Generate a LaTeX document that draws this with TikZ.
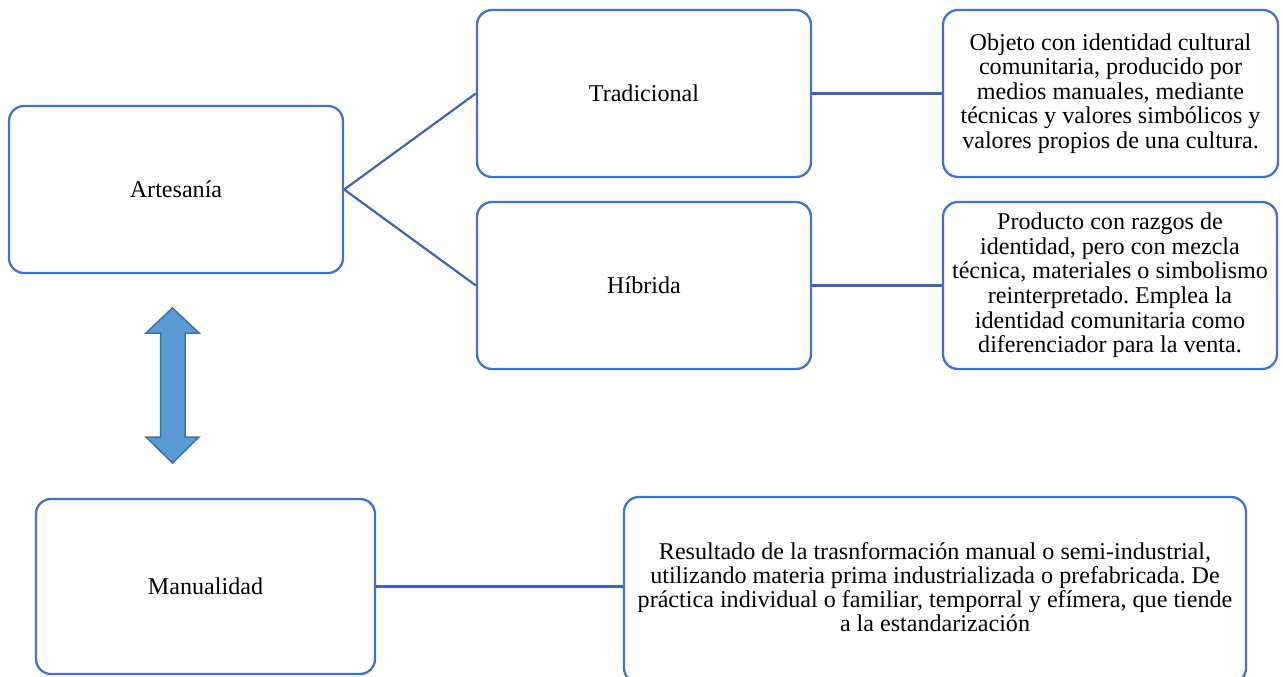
\documentclass[tikz,border=0pt]{standalone}
\usepackage{fontspec}
\setmainfont{Liberation Serif}
\frenchspacing
\definecolor{boxblue}{HTML}{4472C4}
\definecolor{lineblue}{HTML}{3F65B0}
\definecolor{arrowfill}{HTML}{5B9BD5}
\definecolor{arrowdraw}{HTML}{41719C}
\begin{document}
\begin{tikzpicture}[x=1pt,y=-1pt,
  box/.style={draw=boxblue, line width=2.3pt, rounded corners=15pt, fill=white, align=center, inner sep=0pt, font=\fontsize{24.1}{24.6}\selectfont},
  txt/.style={align=center, inner sep=0pt, font=\fontsize{24.1}{24.2}\selectfont},
  conn/.style={draw=lineblue, line width=2.2pt}]
\useasboundingbox (0,0) rectangle (1283,677);
\clip (0,0) rectangle (1283,677);
\node[box, minimum width=334pt, minimum height=167pt] (art) at (176,189.5) {Artesanía};
\node[box, minimum width=334pt, minimum height=167pt] (trad) at (644,93.5) {Tradicional};
\node[box, minimum width=334pt, minimum height=167pt] (hib) at (644,285.5) {Híbrida};
\node[box, minimum width=335pt, minimum height=167pt] (obj) at (1110.5,93.5) {Objeto con identidad cultural\\comunitaria, producido por\\medios manuales, mediante\\técnicas y valores simbólicos y\\valores propios de una cultura.};
\node[box, minimum width=334pt, minimum height=167pt] (prod) at (1110,285.5) {Producto con razgos de\\identidad, pero con mezcla\\técnica, materiales o simbolismo\\reinterpretado. Emplea la\\identidad comunitaria como\\diferenciador para la venta.};
\node[box, minimum width=339pt, minimum height=175pt] (man) at (205.5,586.5) {Manualidad};
\node[box, minimum width=622pt, minimum height=186pt] (res) at (935,590) {};
\node[txt] (restext) at (935,587) {Resultado de la trasnformación manual o semi-industrial,\\utilizando materia prima industrializada o prefabricada. De\\práctica individual o familiar, temporral y efímera, que tiende\\a la estandarización};
\draw[conn] (art.east) -- (trad.west);
\draw[conn] (art.east) -- (hib.west);
\draw[conn] (trad.east) -- (obj.west);
\draw[conn] (hib.east) -- (prod.west);
\draw[conn] (man.east) -- (man.east -| res.west);
\draw[fill=arrowfill, draw=arrowdraw, line width=1.5pt, line join=miter]
  (172.5,308) -- (199,333) -- (185,333) -- (185,437) -- (199,437) -- (172.5,463)
  -- (146,437) -- (160.5,437) -- (160.5,333) -- (146,333) -- cycle;
\end{tikzpicture}
\end{document}
